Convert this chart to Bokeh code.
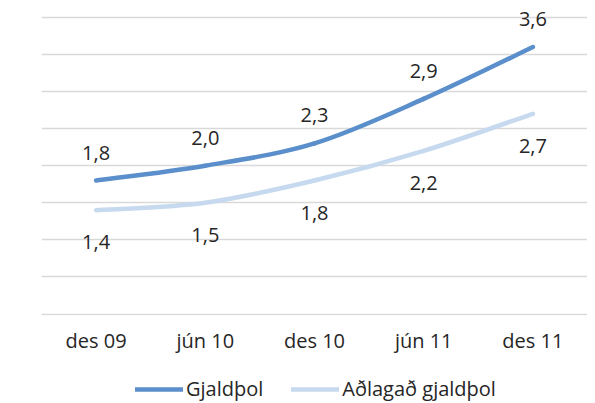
from bokeh.plotting import figure
from bokeh.layouts import column
from bokeh.models import Range1d, FixedTicker, Legend, LegendItem, ColumnDataSource
from bokeh.core.properties import value
from bokeh.embed import file_html
from bokeh.resources import INLINE

categories = ["des 09", "jún 10", "des 10", "jún 11", "des 11"]
gjaldthol = [1.8, 2.0, 2.3, 2.9, 3.6]
adlagad = [1.4, 1.5, 1.8, 2.2, 2.7]
series_names = ["Gjaldþol", "Aðlagað gjaldþol"]
colors = ["#5B8FCB", "#C6D9EE"]

FONT = "Open Sans"
TXT = "#262626"
FS = "20px"

p = figure(frame_width=546, frame_height=313, output_backend="svg", toolbar_location=None,
           x_range=Range1d(-0.5, 4.5), y_range=Range1d(-0.02, 4.2),
           min_border_left=41, min_border_right=0, min_border_top=2, min_border_bottom=60)
p.outline_line_color = None
p.yaxis.visible = False
p.ygrid.ticker = FixedTicker(ticks=[i * 0.5 for i in range(9)])
p.ygrid.grid_line_color = "#D9D9D9"
p.ygrid.grid_line_width = 1.5
p.xgrid.visible = False

xs = list(range(len(categories)))
p.xaxis.ticker = FixedTicker(ticks=xs)
p.xaxis.major_label_overrides = {i: c for i, c in enumerate(categories)}
p.xaxis.axis_line_color = None
p.xaxis.major_tick_line_color = None
p.xaxis.minor_tick_line_color = None
p.xaxis.major_label_standoff = 5
p.xaxis.major_label_text_font = FONT
p.xaxis.major_label_text_font_size = FS
p.xaxis.major_label_text_color = TXT


def smooth_segments(x, y):
    n = len(x)
    segs = dict(x0=[], y0=[], x1=[], y1=[], cx0=[], cy0=[], cx1=[], cy1=[])
    for i in range(n - 1):
        ip = max(i - 1, 0)
        inx = min(i + 2, n - 1)
        segs["x0"].append(x[i]); segs["y0"].append(y[i])
        segs["x1"].append(x[i + 1]); segs["y1"].append(y[i + 1])
        segs["cx0"].append(x[i] + (x[i + 1] - x[ip]) / 6)
        segs["cy0"].append(y[i] + (y[i + 1] - y[ip]) / 6)
        segs["cx1"].append(x[i + 1] - (x[inx] - x[i]) / 6)
        segs["cy1"].append(y[i + 1] - (y[inx] - y[i]) / 6)
    return ColumnDataSource(segs)


# legend figure
p2 = figure(width=587, height=27, output_backend="svg", toolbar_location=None,
            x_axis_location=None, y_axis_location=None,
            x_range=Range1d(0, 1), y_range=Range1d(0, 1),
            min_border=0, min_border_left=41)
p2.outline_line_color = None
p2.grid.visible = False

nan = float("nan")
items = []
for vals, name, col, off in [(gjaldthol, series_names[0], colors[0], 28),
                              (adlagad, series_names[1], colors[1], -32)]:
    src = smooth_segments(xs, vals)
    p.bezier(x0="x0", y0="y0", x1="x1", y1="y1", cx0="cx0", cy0="cy0",
             cx1="cx1", cy1="cy1", source=src, line_color=col, line_width=4.5,
             line_cap="round")
    dummy = p2.line([nan, nan], [nan, nan], line_color=col, line_width=4.5,
                    line_cap="round")
    items.append(LegendItem(label=name, renderers=[dummy]))
    lab = ColumnDataSource(dict(x=xs, y=vals,
                                t=[f"{v:.1f}".replace(".", ",") for v in vals]))
    p.text(x="x", y="y", text="t", source=lab, y_offset=-off,
           text_align="center", text_baseline="middle",
           text_font=value(FONT), text_font_size=FS, text_color=TXT)

legend = Legend(items=items, orientation="horizontal", location=(94, 0),
                label_text_font=FONT, label_text_font_size=FS,
                label_text_color=TXT, glyph_width=48, glyph_height=20,
                label_standoff=3, spacing=28, border_line_color=None,
                background_fill_alpha=0, margin=0, padding=0)
p2.add_layout(legend, "center")

open("out.html", "w").write(file_html(column(p, p2), INLINE))
